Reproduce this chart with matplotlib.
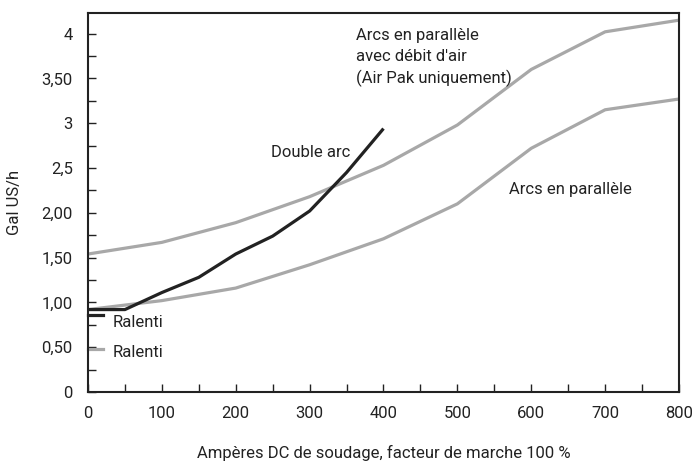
import matplotlib.pyplot as plt
from matplotlib.ticker import MultipleLocator, FixedLocator, FixedFormatter

# welding current (A)
amps = [0, 100, 200, 300, 400, 500, 600, 700, 800]
# parallel arcs with air flow (Air Pak)
air_pak = [1.54, 1.67, 1.89, 2.18, 2.53, 2.98, 3.60, 4.02, 4.15]
# parallel arcs
parallel = [0.92, 1.02, 1.16, 1.42, 1.71, 2.10, 2.72, 3.15, 3.27]
# double arc
double_amps = [0, 50, 100, 150, 200, 250, 300, 350, 400]
double_arc = [0.92, 0.92, 1.11, 1.28, 1.54, 1.74, 2.02, 2.45, 2.94]
# idle values
idle_double = 0.86
idle_parallel = 0.48

ytick_vals = [0, 0.5, 1, 1.5, 2, 2.5, 3, 3.5, 4]
ytick_labels = ["0", "0,50", "1,00", "1,50", "2,00", "2,5", "3", "3,50", "4"]

plt.rcParams['font.family'] = ['Roboto', 'DejaVu Sans']

gray = "#a8a8a8"
black = "#222222"
fs = 12

fig = plt.figure(figsize=(6.92, 4.62), dpi=100)
ax = fig.add_axes([88/692, 1-392/462, (679-88)/692, (392-13)/462])

ax.plot(amps, air_pak, color=gray, lw=2.3, solid_capstyle="butt")
ax.plot(amps, parallel, color=gray, lw=2.3, solid_capstyle="butt")
ax.plot(double_amps, double_arc, color=black, lw=2.3, solid_capstyle="butt")

#idle markers
ax.plot([0, 20], [idle_double, idle_double], color=black, lw=2.3, clip_on=False)
ax.plot([0, 20], [idle_parallel, idle_parallel], color=gray, lw=2.3, clip_on=False)
ax.text(33, idle_double - 0.08, "Ralenti", fontsize=fs, va="center", color=black)
ax.text(33, idle_parallel - 0.04, "Ralenti", fontsize=fs, va="center", color=black)

ax.text(363, 4.06, "Arcs en parallèle\navec débit d'air\n(Air Pak uniquement)",
        fontsize=fs, va="top", ha="left", linespacing=1.45, color=black)
ax.text(248, 2.67, "Double arc", fontsize=fs, va="center", ha="left", color=black)
ax.text(570, 2.26, "Arcs en parallèle", fontsize=fs, va="center", ha="left", color=black)

ax.set_xlim(0, 800)
ax.set_ylim(0, 4.23)
ax.xaxis.set_major_locator(MultipleLocator(100))
ax.xaxis.set_minor_locator(MultipleLocator(50))
ax.yaxis.set_major_locator(FixedLocator(ytick_vals))
ax.yaxis.set_major_formatter(FixedFormatter(ytick_labels))
ax.yaxis.set_minor_locator(MultipleLocator(0.25))
ax.tick_params(which="both", direction="in", length=6, width=1, color=black,
               labelsize=fs, labelcolor=black)
ax.tick_params(axis="x", pad=10)
ax.tick_params(axis="y", pad=11)
for s in ax.spines.values():
    s.set_linewidth(1.5)
    s.set_color(black)

ax.set_ylabel("Gal US/h", fontsize=fs, color=black, labelpad=14)
ax.set_xlabel("Ampères DC de soudage, facteur de marche 100 %", fontsize=fs,
              color=black, labelpad=17)

plt.savefig("out.png", dpi=100)
